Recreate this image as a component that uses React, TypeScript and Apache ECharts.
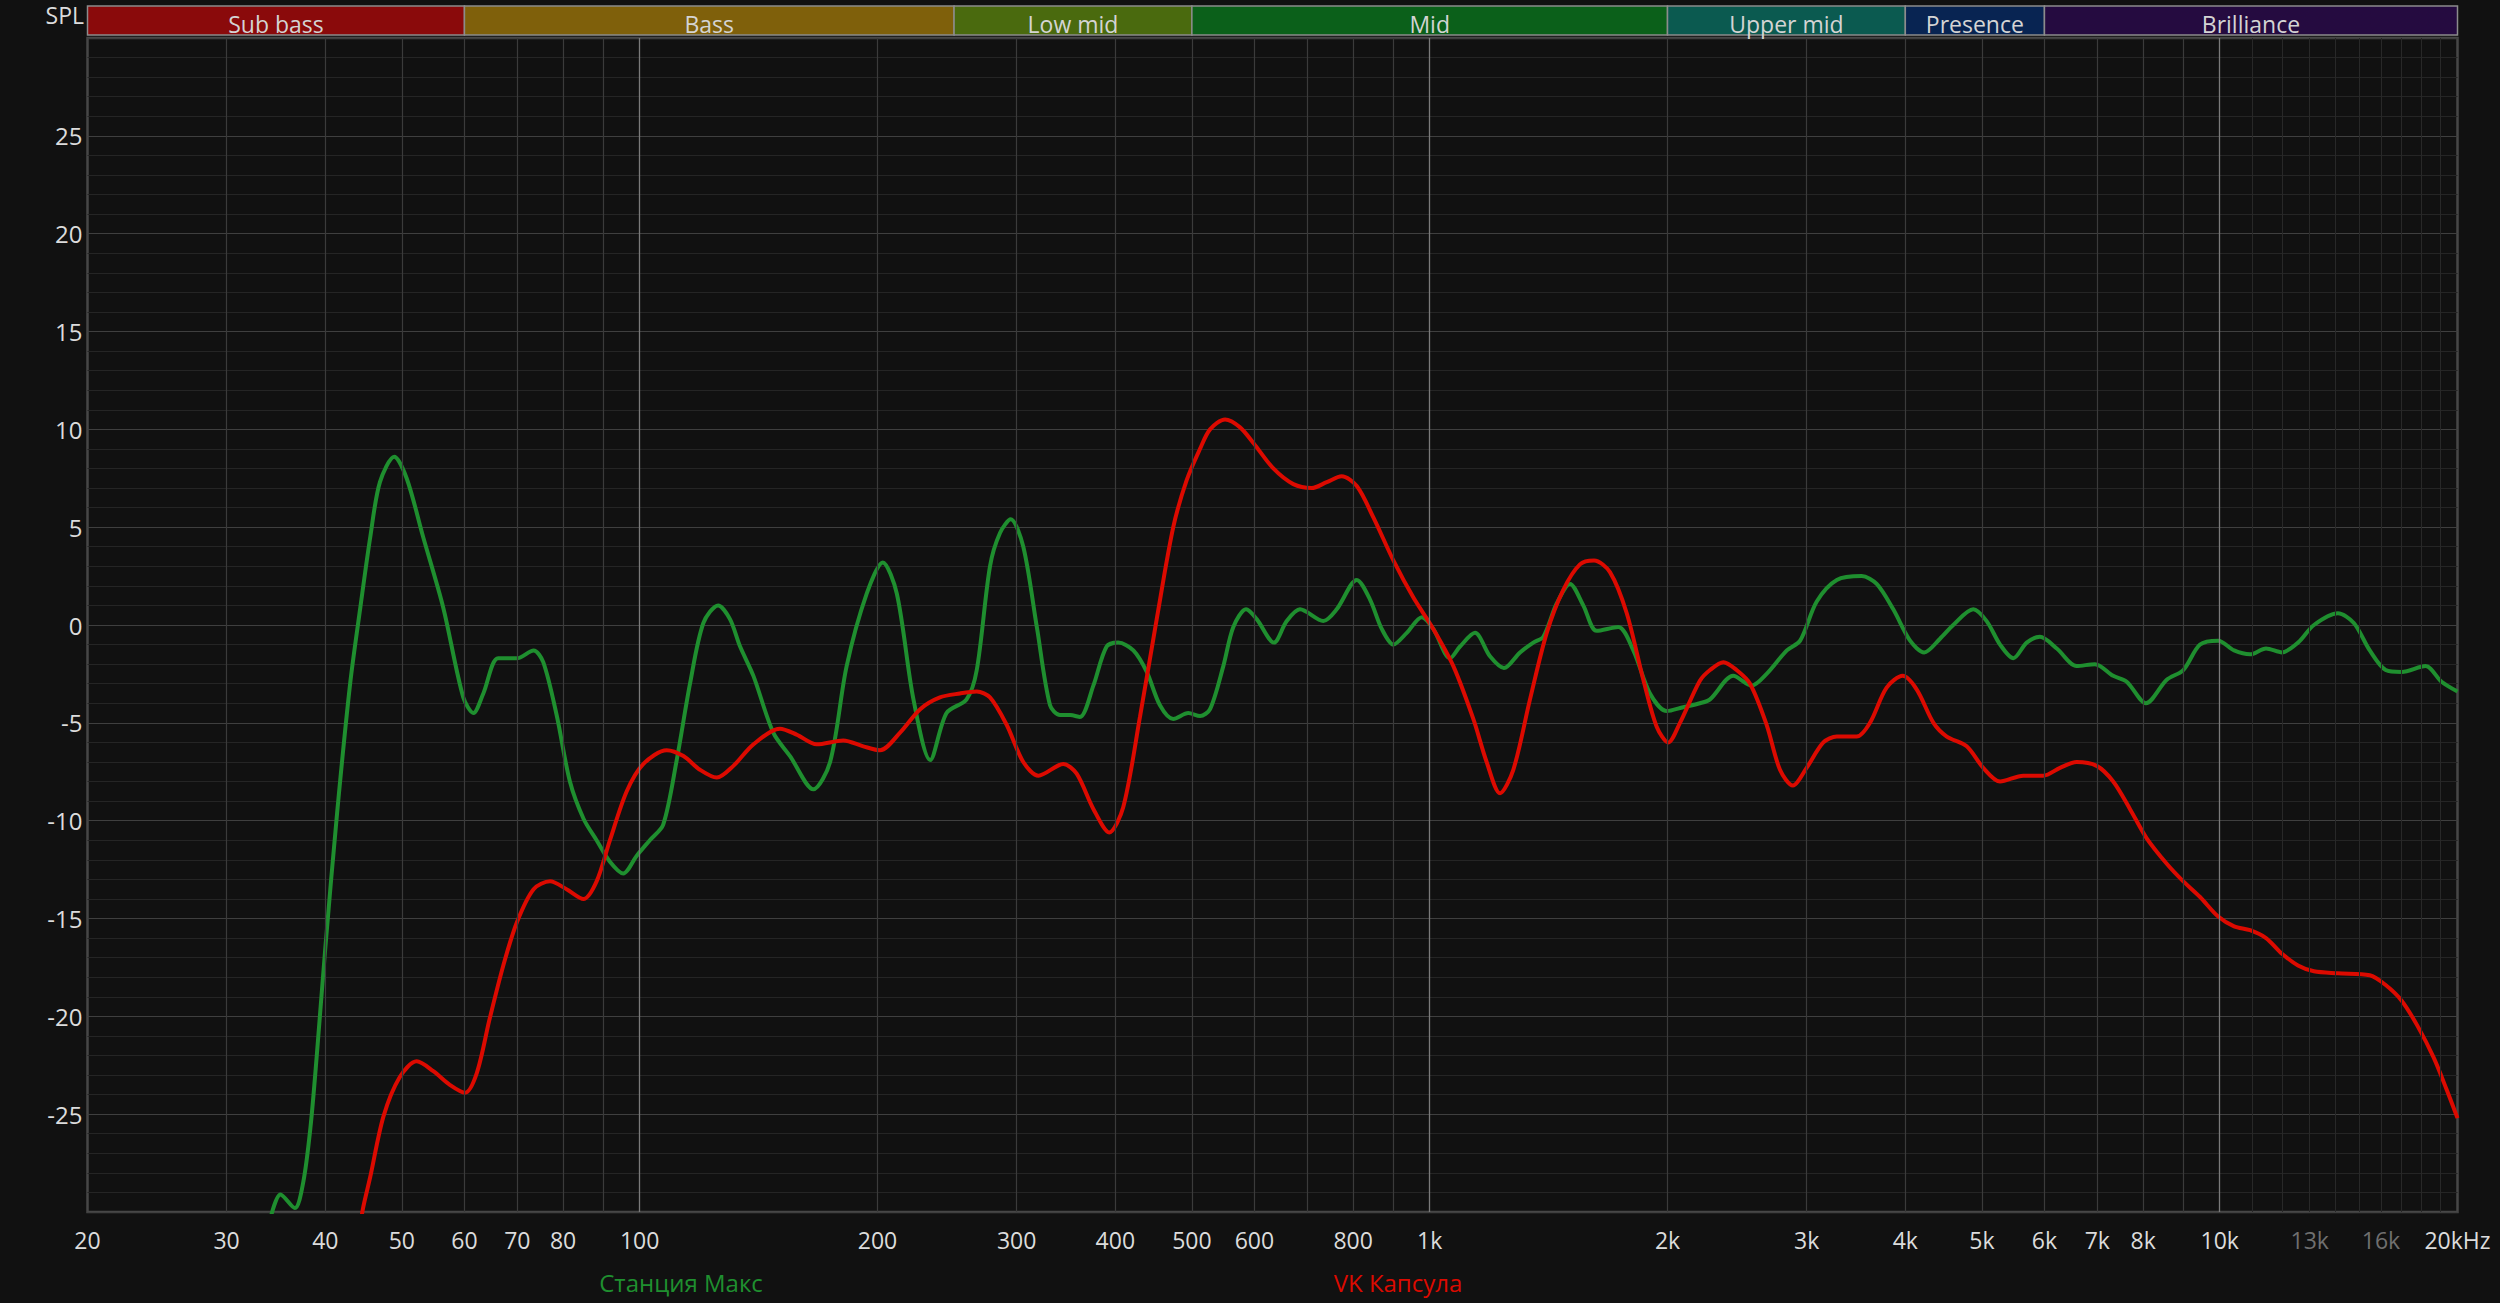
import React, { useEffect, useRef } from "react";
import * as echarts from "echarts";

const FONT = "'Open Sans', 'Noto Sans', sans-serif";

const seriesNames = ["Станция Макс", "VK Капсула"];
const seriesColors = ["#1f8f2f", "#dc0a00"];

// [frequency Hz, SPL dB]
const greenData: [number, number][] = [
  [34.1, -30.3], [35.1, -29.1], [36.6, -29.8], [37.5, -28.5], [38.3, -25.7], [39.0, -22.1], [40.0, -16.5],
  [41.4, -9.6], [43.0, -3.0], [44.3, 0.9], [45.6, 4.5], [46.9, 7.3], [48.9, 8.6], [50.7, 7.5], [53.2, 4.5],
  [56.4, 0.9], [59.8, -3.7], [61.6, -4.5], [63.4, -3.5], [66.2, -1.7], [69.9, -1.7], [73.4, -1.3], [75.5, -1.9],
  [78.5, -4.6], [81.6, -8.0], [84.9, -9.9], [88.2, -11.0], [91.7, -12.1], [95.3, -12.7], [99.1, -11.8],
  [103.0, -11.0], [107.1, -10.2], [111.4, -6.9], [115.8, -3.0], [120.4, 0.1], [125.7, 1.0], [130.1, 0.3],
  [134.0, -1.1], [139.3, -2.6], [147.6, -5.5], [155.0, -6.7], [165.9, -8.4], [174.2, -7.0], [182.8, -2.1],
  [193.8, 1.6], [203.1, 3.2], [211.6, 1.6], [222.1, -3.8], [233.2, -6.9], [244.6, -4.5], [259.3, -3.8],
  [267.1, -2.3], [277.6, 3.0], [285.8, 4.7], [294.9, 5.4], [305.9, 4.0], [318.2, -0.1], [330.7, -4.1],
  [340.4, -4.6], [350.6, -4.6], [360.8, -4.7], [375.2, -3.1], [390.0, -1.1], [403.4, -0.9], [421.6, -1.3],
  [438.4, -2.4], [455.6, -4.1], [473.6, -4.8], [494.8, -4.5], [512, -4.65], [527.2, -4.3], [548.0, -2.1],
  [564.2, -0.1], [585.6, 0.8], [604.0, 0.3], [635.2, -0.9], [659.2, 0.2], [685.2, 0.8], [733.4, 0.2],
  [762.6, 0.8], [808.6, 2.3], [840.4, 1.3], [869.6, -0.2], [899.6, -1.0], [935.4, -0.4], [977.2, 0.4],
  [1010.6, -0.2], [1061, -1.7], [1092.4, -1.1], [1141.2, -0.4], [1192.2, -1.6], [1241.8, -2.2], [1301.2, -1.4],
  [1352.6, -0.9], [1392.8, -0.6], [1448, 1.1], [1505.4, 2.1], [1564.8, 1.0], [1627, -0.3], [1732.6, -0.1],
  [1810.4, -1.3], [1900.4, -3.5], [1995.4, -4.4], [2094, -4.2], [2198, -4.0], [2264, -3.8], [2422, -2.6],
  [2556, -3.1], [2670, -2.5], [2832, -1.3], [2944, -0.8], [3090, 1.2], [3276, 2.3], [3522, 2.5], [3680, 2.1],
  [3862, 0.8], [4056, -0.8], [4226, -1.4], [4426, -0.7], [4600, 0.0], [4876, 0.8], [5070, 0.2], [5272, -1.0],
  [5480, -1.7], [5698, -0.9], [5922, -0.6], [6220, -1.2], [6592, -2.1], [6952, -2.0], [7332, -2.6],
  [7626, -2.9], [8066, -4.0], [8570, -2.8], [8994, -2.3], [9444, -1.0], [9956, -0.8], [10430, -1.3],
  [10926, -1.5], [11446, -1.2], [11992, -1.4], [12564, -0.9], [13162, 0.0], [14112, 0.6], [14784, 0.1],
  [15488, -1.3], [16222, -2.3], [16996, -2.4], [18224, -2.1], [19092, -2.9], [20000, -3.4],
];

const redData: [number, number][] = [
  [44.0, -31.5], [44.6, -29.9], [45.6, -28.2], [47.4, -25.1], [49.7, -23.1], [52.2, -22.3], [54.8, -22.8],
  [57.5, -23.5], [60.1, -23.9], [62.2, -22.9], [64.6, -20.1], [67.2, -17.4], [69.9, -15.2], [73.4, -13.5],
  [77.0, -13.1], [80.8, -13.5], [84.9, -14.0], [88.2, -13.1], [91.7, -11.0], [96.3, -8.5], [101.1, -7.1],
  [108.2, -6.4], [113.6, -6.7], [119.2, -7.4], [125.2, -7.8], [131.4, -7.2], [139.3, -6.1], [150.5, -5.3],
  [158.0, -5.6], [167.5, -6.1], [181.0, -5.9], [191.9, -6.2], [201.5, -6.4], [213.6, -5.5], [226.5, -4.3],
  [239.9, -3.7], [254.3, -3.5], [267.1, -3.4], [277.6, -3.7], [291.4, -5.1], [305.9, -7.0], [319.7, -7.7],
  [343.8, -7.1], [357.4, -7.6], [375.2, -9.4], [393.0, -10.6], [409.4, -9.3], [429.8, -4.7], [451.3, 0.3],
  [473.6, 5.0], [492.5, 7.4], [512, 9.0], [527.2, 10.0], [550.8, 10.5], [575.4, 10.1], [598.2, 9.3],
  [634.0, 8.0], [672.0, 7.2], [709.0, 7.0], [740.8, 7.3], [773.8, 7.6], [808.6, 7.1], [848.6, 5.5],
  [899.6, 3.3], [953.6, 1.4], [1010.6, -0.2], [1071.4, -2.1], [1135.6, -4.8], [1180.6, -7.0], [1227.6, -8.6],
  [1276, -7.4], [1339.6, -3.8], [1406.6, -0.4], [1476.2, 1.8], [1549.6, 3.1], [1614.4, 3.3], [1691.2, 2.7],
  [1776, 0.6], [1864, -2.8], [1938, -5.2], [2004.6, -6.0], [2074, -5.0], [2198, -2.85], [2264, -2.3],
  [2354, -1.9], [2446, -2.3], [2544, -3.0], [2670, -5.1], [2776, -7.4], [2882, -8.2], [3000, -7.3],
  [3150, -6.0], [3276, -5.7], [3472, -5.7], [3608, -5.0], [3788, -3.2], [3970, -2.6], [4136, -3.3],
  [4342, -5.0], [4514, -5.7], [4784, -6.2], [5020, -7.3], [5272, -8.0], [5642, -7.7], [5980, -7.7],
  [6278, -7.3], [6592, -7.0], [6988, -7.2], [7332, -8.0], [7698, -9.4], [8084, -10.9], [8570, -12.2],
  [8994, -13.1], [9444, -13.9], [9956, -14.9], [10430, -15.4], [10926, -15.6], [11446, -16.0], [11992, -16.8],
  [12564, -17.4], [13162, -17.7], [14112, -17.8], [15488, -17.9], [16222, -18.4], [16996, -19.2],
  [17806, -20.5], [18654, -22.1], [19358, -23.7], [20000, -25.2],
];

// Frequency axis
const minorGridFreqs = [30, 40, 50, 60, 70, 80, 90, 200, 300, 400, 500, 600, 700, 800, 900,
  2000, 3000, 4000, 5000, 6000, 7000, 8000, 9000];
const majorGridFreqs = [100, 1000, 10000];
const fineGridFreqs = [11000, 12000, 13000, 14000, 15000, 16000, 17000, 18000, 19000];
const tickFreqs = [20, 30, 40, 50, 60, 70, 80, 100, 200, 300, 400, 500, 600, 800, 1000, 2000, 3000,
  4000, 5000, 6000, 7000, 8000, 10000, 13000, 16000, 20000];
const tickLabels = ["20", "30", "40", "50", "60", "70", "80", "100", "200", "300", "400", "500", "600",
  "800", "1k", "2k", "3k", "4k", "5k", "6k", "7k", "8k", "10k", "13k", "16k", "20kHz"];
const dimTickLabels = ["13k", "16k"];

// Frequency bands
const bandNames = ["Sub bass", "Bass", "Low mid", "Mid", "Upper mid", "Presence", "Brilliance"];
const bandEdges = [20, 60, 250, 500, 2000, 4000, 6000, 20000];
const bandColors = ["#8a0a0b", "#7f600b", "#4a6a0e", "#0b601a", "#0b5a50", "#082452", "#250b40"];

const W = 2500;
const H = 1303;
const GRID_LEFT = 87.5;
const GRID_RIGHT = 42.5;

export default function App() {
  const ref = useRef<HTMLDivElement>(null);

  useEffect(() => {
    document.body.style.margin = "0";
    document.body.style.background = "#111111";
    if (!ref.current) return;
    const chart = echarts.init(ref.current, undefined, { renderer: "svg" });

    const vLines: any[] = [];
    minorGridFreqs.forEach((f) =>
      vLines.push({ xAxis: f, lineStyle: { color: "#3b3b3b", width: 1.2, type: "solid" }, label: { show: false } })
    );
    fineGridFreqs.forEach((f) =>
      vLines.push({ xAxis: f, lineStyle: { color: "#282828", width: 1, type: "solid" }, label: { show: false } })
    );
    majorGridFreqs.forEach((f) =>
      vLines.push({ xAxis: f, lineStyle: { color: "#7a7a7a", width: 1.3, type: "solid" }, label: { show: false } })
    );
    tickFreqs.forEach((f, i) =>
      vLines.push({
        xAxis: f,
        lineStyle: { color: "rgba(0,0,0,0)", width: 0 },
        label: {
          show: true,
          position: "start",
          distance: 16,
          formatter: tickLabels[i],
          color: dimTickLabels.includes(tickLabels[i]) ? "#6f6f6f" : "#dcdcdc",
          fontSize: 23,
          fontFamily: FONT,
        },
      })
    );

    const bandAreas = bandNames.map((name, i) => [
      {
        name,
        xAxis: bandEdges[i],
        itemStyle: { color: bandColors[i], borderColor: "#8c8c8c", borderWidth: 1.5 },
        label: {
          show: true,
          position: "inside",
          color: "#d4d4d4",
          fontSize: 23,
          fontFamily: FONT,
          offset: [0, 3],
        },
      },
      { xAxis: bandEdges[i + 1] },
    ]);

    const option: any = {
      animation: false,
      backgroundColor: "#111111",
      grid: [
        {
          left: GRID_LEFT,
          right: GRID_RIGHT,
          top: 38,
          bottom: 91,
          show: true,
          backgroundColor: "#111111",
          borderColor: "#474747",
          borderWidth: 2.5,
        },
        { left: GRID_LEFT, right: GRID_RIGHT, top: 6, height: 29 },
      ],
      xAxis: [
        {
          type: "log",
          logBase: 10,
          min: 20,
          max: 20000,
          gridIndex: 0,
          axisLine: { show: false },
          axisTick: { show: false },
          axisLabel: { show: false },
          splitLine: { show: false },
          minorSplitLine: { show: false },
        },
        {
          type: "log",
          logBase: 10,
          min: 20,
          max: 20000,
          gridIndex: 1,
          show: false,
        },
      ],
      yAxis: [
        {
          type: "value",
          min: -30,
          max: 30,
          interval: 5,
          gridIndex: 0,
          axisLine: { show: false },
          axisTick: { show: false },
          splitLine: { show: true, lineStyle: { color: "#3f3f3f", width: 1.2 } },
          minorTick: { show: false, splitNumber: 5 },
          minorSplitLine: { show: true, lineStyle: { color: "#252525", width: 1 } },
          axisLabel: {
            color: "#dcdcdc",
            fontSize: 24,
            fontFamily: FONT,
            margin: 5,
            padding: [4, 0, 0, 0],
            formatter: (v: number) => (v <= -30 || v >= 30 ? "" : String(v)),
          },
        },
        { type: "value", min: 0, max: 1, gridIndex: 1, show: false },
      ],
      graphic: [
        {
          type: "text",
          x: 84,
          y: 15,
          style: {
            text: "SPL",
            fill: "#dcdcdc",
            font: `23px ${FONT}`,
            align: "right",
            verticalAlign: "middle",
          },
        },
        {
          type: "text",
          x: 681,
          y: 1282,
          style: {
            text: seriesNames[0],
            fill: seriesColors[0],
            font: `24px ${FONT}`,
            align: "center",
            verticalAlign: "middle",
          },
        },
        {
          type: "text",
          x: 1398,
          y: 1282,
          style: {
            text: seriesNames[1],
            fill: seriesColors[1],
            font: `24px ${FONT}`,
            align: "center",
            verticalAlign: "middle",
          },
        },
      ],
      series: [
        {
          type: "line",
          name: "gridlines",
          xAxisIndex: 0,
          yAxisIndex: 0,
          data: [],
          z: 1,
          silent: true,
          markLine: {
            silent: true,
            symbol: ["none", "none"],
            animation: false,
            data: vLines,
          },
        },
        {
          type: "line",
          name: "bands",
          xAxisIndex: 1,
          yAxisIndex: 1,
          data: [],
          silent: true,
          markArea: { silent: true, animation: false, data: bandAreas },
        },
        {
          type: "line",
          name: seriesNames[0],
          xAxisIndex: 0,
          yAxisIndex: 0,
          data: greenData,
          showSymbol: false,
          symbol: "none",
          smooth: 0.3,
          clip: true,
          z: 3,
          lineStyle: { color: seriesColors[0], width: 4 },
        },
        {
          type: "line",
          name: seriesNames[1],
          xAxisIndex: 0,
          yAxisIndex: 0,
          data: redData,
          showSymbol: false,
          symbol: "none",
          smooth: 0.3,
          clip: true,
          z: 4,
          lineStyle: { color: seriesColors[1], width: 4 },
        },
      ],
    };

    chart.setOption(option);
    return () => chart.dispose();
  }, []);

  return <div ref={ref} style={{ width: W, height: H }} />;
}
